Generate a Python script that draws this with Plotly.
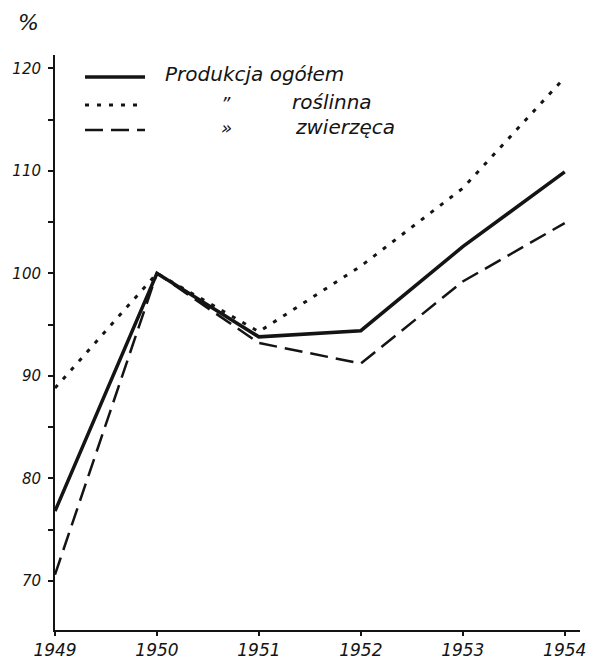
import plotly.graph_objects as go

years = [1949, 1950, 1951, 1952, 1953, 1954]
ogolem = [76.8, 100.0, 93.8, 94.4, 102.6, 109.9]
roslinna = [88.8, 100.0, 94.3, 100.7, 108.3, 119.1]
zwierzeca = [70.6, 100.0, 93.2, 91.2, 99.2, 104.9]

y_ticks = [70, 75, 80, 85, 90, 95, 100, 105, 110, 115, 120]
y_labels = ["70", "", "80", "", "90", "", "100", "", "110", "", "120"]
x_labels = ["1949", "1950", "1951", "1952", "1953", "1954"]

FONT = "DejaVu Sans"
INK = "#141414"

fig = go.Figure()
fig.add_trace(go.Scatter(x=years, y=roslinna, mode="lines", name="roślinna",
                         line=dict(color=INK, width=3, dash="4px,8px")))
fig.add_trace(go.Scatter(x=years, y=zwierzeca, mode="lines", name="zwierzęca",
                         line=dict(color=INK, width=2.5, dash="18px,8px")))
fig.add_trace(go.Scatter(x=years, y=ogolem, mode="lines", name="Produkcja ogółem",
                         line=dict(color=INK, width=3.5)))

# page body adds an 8px offset; layout expressed in screen pixels
OFF = 8
W, H = 596, 660
L, T = 55 - OFF, 55 - OFF
B = H - (630 - OFF)
R = W - (580 - OFF)
pw, ph = W - L - R, H - T - B


def px(x):
    return (x - OFF - L) / pw


def py(y):
    return 1 - (y - OFF - T) / ph


legend_rows = [
    (77, "solid", 3.5, "", "Produkcja ogółem", 163),
    (105, "4px,8px", 3, "\u201d", "roślinna", 290),
    (130, "18px,8px", 2.5, "\u00bb", "zwierzęca", 293),
]
for yy, dash, w, ditto, word, tx in legend_rows:
    fig.add_shape(type="line", xref="paper", yref="paper",
                  x0=px(85), x1=px(145), y0=py(yy), y1=py(yy),
                  line=dict(color=INK, width=w, dash=dash))
    if ditto:
        fig.add_annotation(xref="paper", yref="paper", x=px(226), y=py(yy - 2),
                           text=ditto, showarrow=False, xanchor="center", yanchor="middle",
                           font=dict(family=FONT, size=18, color=INK, style="italic"))
    fig.add_annotation(xref="paper", yref="paper", x=px(tx), y=py(yy - 3),
                       text=word, showarrow=False, xanchor="left", yanchor="middle",
                       font=dict(family=FONT, size=20, color=INK, style="italic"))

fig.add_annotation(xref="paper", yref="paper", x=px(28), y=py(22),
                   text="%", showarrow=False, xanchor="center", yanchor="middle",
                   font=dict(family=FONT, size=22, color=INK))

fig.update_layout(
    width=W, height=H,
    margin=dict(l=L, r=R, t=T, b=B, autoexpand=False),
    paper_bgcolor="white", plot_bgcolor="white",
    showlegend=False,
    font=dict(family=FONT, color=INK, style="italic"),
    xaxis=dict(range=[1949, 1954.15], tickvals=years, ticktext=x_labels,
               automargin=False,
               showgrid=False, zeroline=False, showline=True, linecolor=INK, linewidth=2,
               ticks="outside", ticklen=4, tickcolor=INK, tickwidth=1.5,
               tickfont=dict(family=FONT, size=17, color=INK, style="italic")),
    yaxis=dict(range=[65.2, 121.3], tickvals=y_ticks, ticktext=y_labels,
               automargin=False,
               showgrid=False, zeroline=False, showline=True, linecolor=INK, linewidth=2,
               ticks="outside", ticklen=5, tickcolor=INK, tickwidth=1.5,
               ticklabelstandoff=4,
               tickfont=dict(family=FONT, size=15, color=INK, style="italic")),
)

fig.write_html("out.html")
